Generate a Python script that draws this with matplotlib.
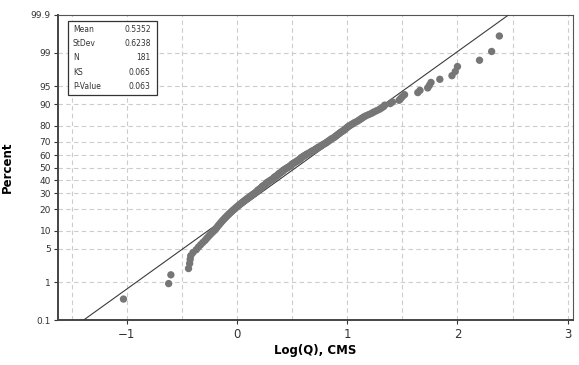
import numpy as np
import matplotlib
matplotlib.use("Agg")
import matplotlib.pyplot as plt
from matplotlib.patches import Rectangle
from statistics import NormalDist

# sorted Log(Q) values
log_q = [
    -1.03, -0.62, -0.60, -0.44, -0.43, -0.425, -0.42, -0.40, -0.37, -0.35,
    -0.33, -0.31, -0.29, -0.275, -0.26, -0.245, -0.23, -0.215, -0.20, -0.19,
    -0.18, -0.17, -0.16, -0.15, -0.14, -0.13, -0.12, -0.11, -0.10, -0.09,
    -0.08, -0.07, -0.06, -0.05, -0.04, -0.03, -0.02, -0.01, 0.00, 0.01,
    0.02, 0.03, 0.04, 0.05, 0.06, 0.07, 0.08, 0.09, 0.10, 0.11,
    0.12, 0.13, 0.14, 0.15, 0.16, 0.17, 0.18, 0.185, 0.19, 0.20,
    0.21, 0.22, 0.225, 0.23, 0.24, 0.25, 0.26, 0.265, 0.27, 0.28,
    0.29, 0.30, 0.31, 0.32, 0.33, 0.335, 0.34, 0.35, 0.36, 0.37,
    0.375, 0.38, 0.39, 0.40, 0.41, 0.415, 0.42, 0.43, 0.44, 0.45,
    0.46, 0.47, 0.48, 0.49, 0.495, 0.50, 0.51, 0.52, 0.53, 0.54,
    0.55, 0.56, 0.57, 0.575, 0.58, 0.59, 0.60, 0.61, 0.62, 0.63,
    0.64, 0.655, 0.665, 0.675, 0.685, 0.70, 0.71, 0.72, 0.73, 0.74,
    0.755, 0.765, 0.775, 0.785, 0.80, 0.81, 0.82, 0.83, 0.84, 0.85,
    0.86, 0.875, 0.885, 0.895, 0.905, 0.915, 0.925, 0.935, 0.945, 0.96,
    0.97, 0.98, 0.99, 1.00, 1.01, 1.025, 1.04, 1.055, 1.07, 1.09,
    1.105, 1.12, 1.135, 1.15, 1.17, 1.195, 1.22, 1.24, 1.265, 1.29,
    1.31, 1.33, 1.34, 1.39, 1.41, 1.47, 1.485, 1.50, 1.52, 1.64,
    1.66, 1.73, 1.745, 1.76, 1.84, 1.95, 1.98, 2.00, 2.20, 2.31,
    2.38,
]

stat_names = ["Mean", "StDev", "N", "KS", "P-Value"]
stat_values = ["0.5352", "0.6238", "181", "0.065", "0.063"]
mean = 0.5352
stdev = 0.6238

pct_ticks = [0.1, 1, 5, 10, 20, 30, 40, 50, 60, 70, 80, 90, 95, 99, 99.9]
pct_labels = ["0.1", "1", "5", "10", "20", "30", "40", "50", "60", "70",
              "80", "90", "95", "99", "99.9"]
x_ticks = [-1, 0, 1, 2, 3]

nd = NormalDist()
_ppf = np.vectorize(lambda p: nd.inv_cdf(min(max(p / 100.0, 1e-9), 1 - 1e-9)),
                    otypes=[float])
_cdf = np.vectorize(lambda z: 100.0 * nd.cdf(z), otypes=[float])

n = len(log_q)
rank = np.arange(1, n + 1)
percent = 100.0 * (rank - 0.3) / (n + 0.4)   # median ranks

fig = plt.figure(figsize=(5.79, 3.65), dpi=100)
ax = fig.add_axes([0.100, 0.123, 0.890, 0.836])
ax.set_yscale("function", functions=(_ppf, _cdf))

# fitted normal line
line_pct = np.array([0.1, 99.9])
ax.plot(mean + stdev * _ppf(line_pct), line_pct, color="#3c3c3c", lw=0.8, zorder=3)

ax.scatter(log_q, percent, s=28, color="#767676", edgecolors="none", zorder=4)

ax.set_xlim(-1.625, 3.05)
ax.set_ylim(0.1, 99.9)
ax.set_yticks(pct_ticks)
ax.set_yticklabels(pct_labels)
ax.yaxis.set_minor_locator(matplotlib.ticker.NullLocator())
ax.set_xticks(x_ticks)
ax.set_xticks(np.arange(-1.5, 3.01, 0.5), minor=True)

for p in pct_ticks[1:-1]:
    ax.axhline(p, color="#cccccc", lw=0.8, ls=(0, (4, 3)), zorder=1)
for xv in np.arange(-1.5, 3.01, 0.5):
    ax.axvline(xv, color="#cccccc", lw=0.8, ls=(0, (4, 3)), zorder=1)

ax.tick_params(axis="y", labelsize=6.5, length=3, width=0.8, colors="#333333", pad=2)
ax.tick_params(axis="x", labelsize=8.5, length=3, width=0.8, colors="#333333", pad=3)
ax.tick_params(axis="x", which="minor", length=0)
for side in ["left", "bottom"]:
    ax.spines[side].set_linewidth(1.4)
    ax.spines[side].set_color("#444444")
for side in ["top", "right"]:
    ax.spines[side].set_linewidth(0.8)
    ax.spines[side].set_color("#555555")

ax.set_xlabel("Log(Q), CMS", fontsize=8.5, fontweight="bold", labelpad=2)
ax.set_ylabel("Percent", fontsize=8.5, fontweight="bold")
ax.yaxis.set_label_coords(-0.085, 0.5)

# stats box
ax.add_patch(Rectangle((0.019, 0.738), 0.173, 0.242, transform=ax.transAxes,
                       facecolor="white", edgecolor="#333333", lw=0.9, zorder=6))
rows_y = [0.951, 0.905, 0.859, 0.813, 0.764]
for name, val, yy in zip(stat_names, stat_values, rows_y):
    ax.text(0.029, yy, name, transform=ax.transAxes, fontsize=5.5,
            va="center", ha="left", color="#333333", zorder=7)
    ax.text(0.180, yy, val, transform=ax.transAxes, fontsize=5.5,
            va="center", ha="right", color="#333333", zorder=7)

fig.savefig("out.png", dpi=100)
